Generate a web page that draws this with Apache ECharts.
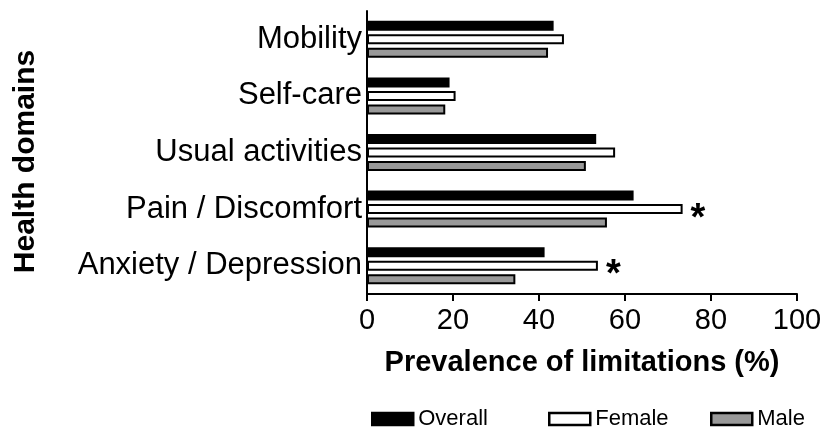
<!DOCTYPE html>
<html>
<head>
<meta charset="utf-8">
<script src="https://cdn.jsdelivr.net/npm/echarts@6/dist/echarts.min.js"></script>
<style>
html,body{margin:0;padding:0;background:#fff;}
#chart{width:825px;height:432px;}
</style>
</head>
<body>
<div id="chart"></div>
<script>
const categories = ['Mobility', 'Self-care', 'Usual activities', 'Pain / Discomfort', 'Anxiety / Depression'];
const overall = [43.4, 19.2, 53.3, 62.0, 41.3];
const female = [45.8, 20.6, 57.7, 73.4, 53.7];
const male = [42.1, 18.2, 50.9, 55.8, 34.5];
const femaleMarks = ['', '', '', '*', '*'];
const xTicks = [0, 20, 40, 60, 80, 100];

const FONT = "'Liberation Sans', Arial, sans-serif";
const chart = echarts.init(document.getElementById('chart'), null, {renderer: 'canvas'});

const legendBase = {
  top: 408, padding: 0, itemWidth: 41, itemHeight: 12, itemGap: 6, icon: 'rect',
  itemStyle: {borderWidth: 2.5},
  textStyle: {fontFamily: FONT, fontSize: 22, color: '#000'}
};

chart.setOption({
  animation: false,
  backgroundColor: '#fff',
  grid: {left: 367, right: 28, top: 11, bottom: 138},
  legend: [
    Object.assign({}, legendBase, {left: 371, data: ['Overall']}),
    Object.assign({}, legendBase, {left: 548, data: ['Female']}),
    Object.assign({}, legendBase, {left: 710, data: ['Male']})
  ],
  xAxis: {
    type: 'value', min: xTicks[0], max: xTicks[xTicks.length - 1], interval: 20,
    name: 'Prevalence of limitations (%)', nameLocation: 'middle', nameGap: 54,
    nameTextStyle: {fontFamily: FONT, fontSize: 29, fontWeight: 'bold', color: '#000'},
    axisLine: {show: true, lineStyle: {color: '#000', width: 2}},
    axisTick: {show: true, length: 7, lineStyle: {color: '#000', width: 2}},
    axisLabel: {fontFamily: FONT, fontSize: 29, color: '#000', margin: 12},
    splitLine: {show: false}
  },
  yAxis: {
    type: 'category', data: categories, inverse: true,
    name: 'Health domains', nameLocation: 'middle', nameRotate: 90, nameGap: 326,
    nameTextStyle: {fontFamily: FONT, fontSize: 30, fontWeight: 'bold', color: '#000', padding: [0, 18, 0, 0]},
    axisLine: {show: true, lineStyle: {color: '#000', width: 2}},
    axisTick: {show: false},
    axisLabel: {fontFamily: FONT, fontSize: 31, color: '#000', margin: 5}
  },
  series: [
    {
      name: 'Overall', type: 'bar', data: overall, barWidth: 10, barGap: '35%',
      itemStyle: {color: '#000', borderColor: '#000', borderWidth: 2}
    },
    {
      name: 'Female', type: 'bar', data: female, barWidth: 10, barGap: '35%',
      itemStyle: {color: '#fff', borderColor: '#000', borderWidth: 2},
      label: {
        show: true, position: 'right', distance: 8, offset: [0, 10],
        formatter: p => femaleMarks[p.dataIndex],
        fontFamily: FONT, fontSize: 38, fontWeight: 'bold', color: '#000'
      }
    },
    {
      name: 'Male', type: 'bar', data: male, barWidth: 10, barGap: '35%',
      itemStyle: {color: '#999', borderColor: '#000', borderWidth: 2}
    }
  ]
});
</script>
</body>
</html>
